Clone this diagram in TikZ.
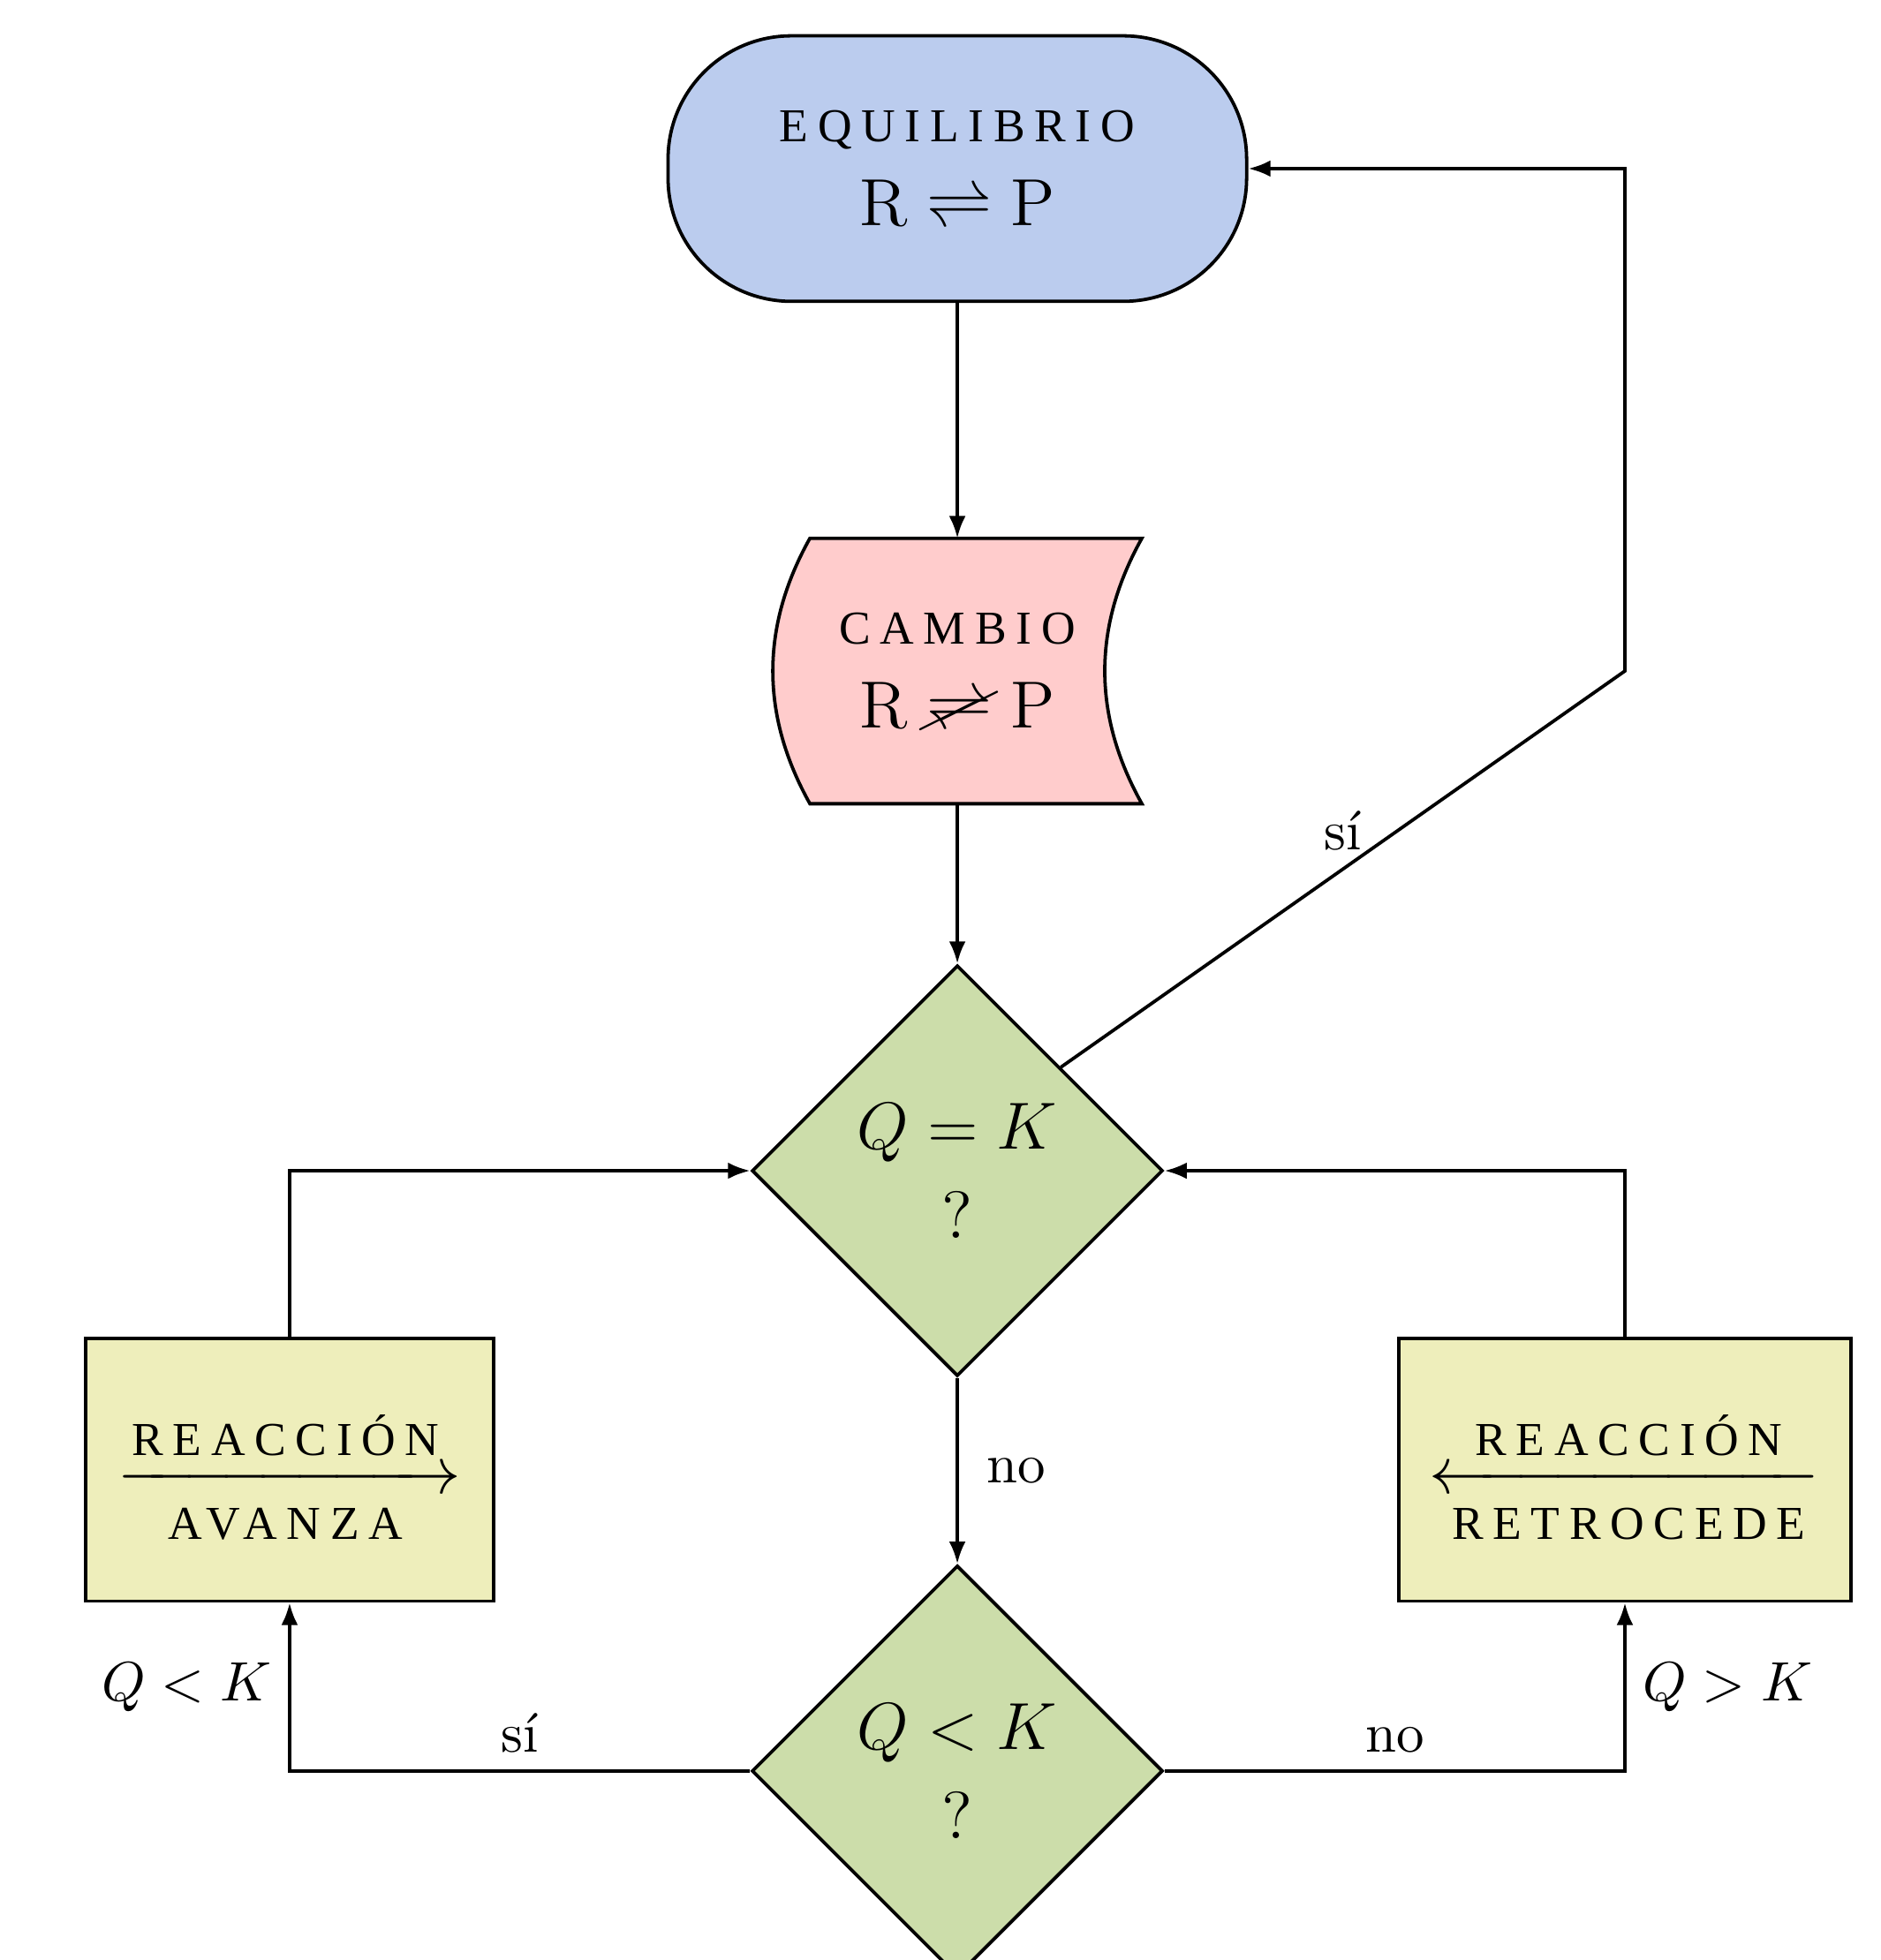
\documentclass[tikz,border=0pt]{standalone}
\usepackage{amsmath}
\usepackage{cancel}
\usepackage{fontspec}
\newfontfamily\fuenteVersal{Liberation Serif}[LetterSpace=20]
\usepackage{xcolor}
\definecolor{equiAzul}{HTML}{BBCCEE}
\definecolor{equiRosa}{HTML}{FFCCCC}
\definecolor{equiVerde}{HTML}{CCDDAA}
\definecolor{equiCrema}{HTML}{EEEEBB}
\usepackage{tikz}
\usetikzlibrary{arrows.meta, shapes.geometric, backgrounds}
\newcommand{\Versal}[1]{{\fontsize{8.5pt}{10pt}\fuenteVersal #1}}
\tikzset{
  %% ── Cajas ────────────────────────────────────────────────────────────
  %% Una forma por papel: inicio redondeado, cambio curvo, decisión en
  %% rombo y reacción en rectángulo.
  caja/.style         = {draw=black, semithick, align=center, inner sep=3pt},
  cajaInicio/.style   = {caja, fill=equiAzul, rounded corners=0.78cm},
  cajaCambio/.style   = {caja, draw=none, outer sep=0pt},
  contornoCambio/.style = {draw=black, semithick, fill=equiRosa},
  cajaDecision/.style = {caja, diamond, fill=equiVerde, inner sep=0pt,
                         font=\large},
  cajaReaccion/.style = {caja, fill=equiCrema, font=\large},
  %%
  %% ── Flechas ──────────────────────────────────────────────────────────
  flecha/.style       = {-{Latex[length=4pt, width=3pt]}, semithick},
  %%
  %% ── Texto ────────────────────────────────────────────────────────────
  etiqueta/.style     = {inner sep=3pt},
}

\begin{document}
\begin{tikzpicture}[x=1cm, y=1cm]

\useasboundingbox (0, 0) rectangle (11.894, 12.402);

\node[cajaInicio, minimum width=3.66cm, minimum height=1.68cm] (equil) at (6.056, 11.335)
     {\Versal{EQUILIBRIO}\\[3pt] {\large$\mathrm{R} \rightleftharpoons \mathrm{P}$}};

\node[cajaCambio, minimum width=2.335cm, minimum height=1.68cm] (cambio) at (6.056, 8.156)
     {\Versal{CAMBIO}\\[3pt] {\large$\mathrm{R} \mathrel{\cancel{\rightleftharpoons}} \mathrm{P}$}};
\begin{scope}[on background layer]
  \draw[contornoCambio] ([xshift=0.235cm]cambio.north west)
       .. controls +(-0.313, -0.56) and +(-0.313, 0.56) .. ([xshift=0.235cm]cambio.south west)
       -- (cambio.south east)
       .. controls +(-0.313, 0.56) and +(-0.313, -0.56) .. (cambio.north east)
       -- cycle;
\end{scope}

\node[cajaDecision, minimum width=2.6cm, minimum height=2.6cm] (igual) at (6.056, 4.994)
     {$Q = K$\\[2pt] ?};
\node[cajaDecision, minimum width=2.6cm, minimum height=2.6cm] (menor) at (6.056, 1.196)
     {$Q < K$\\[2pt] ?};

\node[cajaReaccion, minimum width=2.58cm, minimum height=1.66cm] (avanza) at (1.832, 3.101)
     {$\xrightarrow[\hbox{\rule{0pt}{6.2pt}\Versal{AVANZA}}]
                   {\hbox{\rule{0pt}{10pt}\Versal{REACCIÓN}}}$};
\node[cajaReaccion, minimum width=2.86cm, minimum height=1.66cm] (retro) at (10.279, 3.101)
     {$\xleftarrow[\hbox{\rule{0pt}{6.2pt}\Versal{RETROCEDE}}]
                  {\hbox{\rule{0pt}{10pt}\Versal{REACCIÓN}}}$};

\draw[flecha] (equil) -- (cambio);
\draw[flecha] (cambio) -- (igual);
\draw[flecha] (igual) -- node[etiqueta, right, xshift=2pt] {no} (menor);
\draw[flecha] (igual.north east) -- node[etiqueta, above] {sí} (retro |- cambio)
     |- (equil.east);
\draw[flecha] (avanza) |- (igual);
\draw[flecha] (retro) |- (igual);
\draw[flecha] (menor) -| node[etiqueta, pos=0.25, above] {sí}
     node[etiqueta, pos=0.75, left] {$Q < K$} (avanza);
\draw[flecha] (menor) -| node[etiqueta, pos=0.25, above] {no}
     node[etiqueta, pos=0.75, right] {$Q > K$} (retro);

\end{tikzpicture}
\end{document}
